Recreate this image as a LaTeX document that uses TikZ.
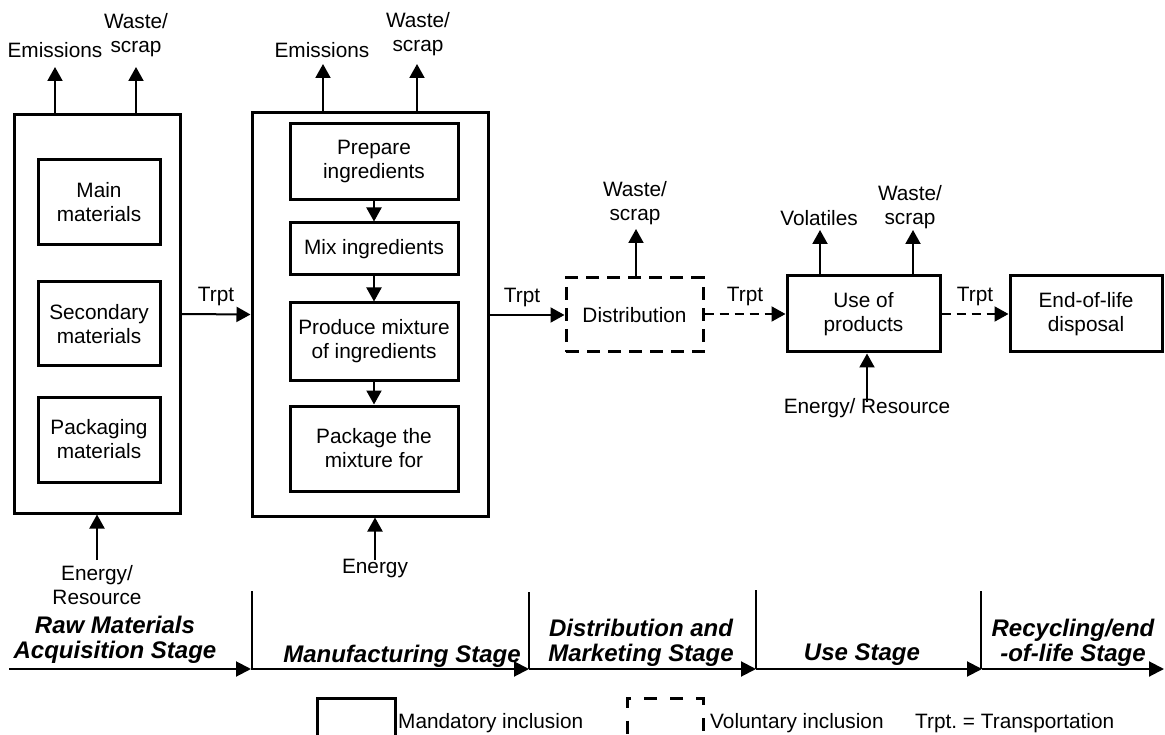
\documentclass[tikz,border=0pt]{standalone}
\usepackage{fontspec}
\setmainfont{Liberation Sans}
\usetikzlibrary{arrows.meta}
\frenchspacing
\newcommand\regf{\fontsize{20.8}{24}\selectfont}
\newcommand\stgf{\fontsize{24}{25}\selectfont\bfseries\itshape}
\tikzset{
  box/.style={draw, line width=3pt, align=center, inner sep=0pt, font=\regf},
  dbox/.style={box, dash pattern=on 13pt off 8pt},
  lab/.style={align=center, inner sep=0pt, font=\regf},
  stage/.style={align=center, inner sep=0pt, font=\stgf},
  arr/.style={-{Triangle[length=14pt,width=15pt]}, line width=2pt},
  darr/.style={arr, dash pattern=on 9pt off 6pt},
  tline/.style={-{Triangle[length=15pt,width=15pt]}, line width=2pt},
  divider/.style={line width=1.6pt},
}
\begin{document}
\begin{tikzpicture}[x=1pt,y=-1pt]
\clip (0,0) rectangle (1165,735);
\fill[white] (0,0) rectangle (1165,735);

% ---------- Raw materials ----------
\node[box, minimum width=166, minimum height=398] (rm) at (97,314) {};
\node[box, minimum width=122, minimum height=85] (main) at (99,202.5) {Main\\materials};
\node[box, minimum width=122, minimum height=84] (sec) at (99,324) {Secondary\\materials};
\node[box, minimum width=122, minimum height=85] (pack) at (99,439.5) {Packaging\\materials};
\node[lab] (rmem) at (55,50) {Emissions};
\node[lab] (rmws) at (136,35) {Waste/\\scrap};
\coordinate (rmemt) at (55,67);
\coordinate (rmwst) at (136,67);
\draw[arr] (rm.north -| rmemt) -- (rmemt);
\draw[arr] (rm.north -| rmwst) -- (rmwst);
\node[lab] (rmen) at (97,585) {Energy/\\Resource};
\coordinate (rmenb) at (97,560);
\draw[arr] (rmenb) -- (rm.south -| rmenb);

% ---------- Manufacturing ----------
\node[box, minimum width=236, minimum height=403] (mf) at (370,314.5) {};
\node[box, minimum width=168, minimum height=76] (prep) at (374,162) {Prepare\\ingredients};
\node[box, minimum width=168, minimum height=52] (mix) at (374,249) {Mix ingredients};
\node[box, minimum width=168, minimum height=77] (prod) at (374,341.5) {Produce mixture\\of ingredients};
\node[box, minimum width=168, minimum height=85] (pkg) at (374,448.5) {Package the\\mixture for};
\draw[arr] (prep.south) -- (mix.north);
\draw[arr] (mix.south) -- (prod.north);
\draw[arr] (prod.south) -- (pkg.north);
\node[lab] (mfem) at (322,50) {Emissions};
\node[lab] (mfws) at (418,34.5) {Waste/\\scrap};
\coordinate (mfemt) at (323,64);
\coordinate (mfwst) at (417,64);
\draw[arr] (mf.north -| mfemt) -- (mfemt);
\draw[arr] (mf.north -| mfwst) -- (mfwst);
\node[lab] (mfen) at (375,569) {Energy};
\coordinate (mfenb) at (375,560);
\draw[arr] (mfenb) -- (mf.south -| mfenb);

\draw[arr] (rm.east) -- node[lab, above=7pt] (t1) {Trpt} (mf.west);

% ---------- Distribution ----------
\node[dbox, minimum width=137, minimum height=74] (dist) at (634.5,315) {Distribution};
\draw[arr] (mf.east |- dist.west) -- node[lab, above=7pt, xshift=-5pt] (t2) {Trpt} (dist.west);
\node[lab] (dsws) at (635,203.5) {Waste/\\scrap};
\coordinate (dswst) at (636,229);
\draw[arr] (dist.north -| dswst) -- (dswst);

% ---------- Use ----------
\node[box, minimum width=153, minimum height=76] (use) at (863.5,314) {Use of\\products};
\draw[darr] (dist.east |- use.west) -- node[lab, above=7pt] (t3) {Trpt} (use.west);
\node[lab] (usvo) at (819,218) {Volatiles};
\node[lab] (usws) at (910,207.5) {Waste/\\scrap};
\coordinate (usvot) at (820,230);
\coordinate (uswst) at (913,230);
\draw[arr] (use.north -| usvot) -- (usvot);
\draw[arr] (use.north -| uswst) -- (uswst);
\node[lab] (usen) at (867,408) {Energy/ Resource};
\coordinate (usenb) at (867,402);
\draw[arr] (usenb) -- (use.south -| usenb);

% ---------- End of life ----------
\node[box, minimum width=152, minimum height=76] (eol) at (1086,314) {End-of-life\\disposal};
\draw[darr] (use.east) -- node[lab, above=7pt] (t4) {Trpt} (eol.west);

% ---------- Timeline ----------
\coordinate (s0) at (9,669);
\coordinate (s1) at (251,669);
\coordinate (s2) at (529,669);
\coordinate (s3) at (756,669);
\coordinate (s4) at (982,669);
\coordinate (s5) at (1164,669);
\coordinate (d1) at (252,591);
\coordinate (d2) at (529,592);
\coordinate (d3) at (756,590);
\coordinate (d4) at (981,591);
\draw[tline] (s0) -- (s1);
\draw[tline] (s1) -- (s2);
\draw[tline] (s2) -- (s3);
\draw[tline] (s3) -- (s4);
\draw[tline] (s4) -- (s5);
\draw[divider] (d1) -- (d1 |- s1);
\draw[divider] (d2) -- (d2 |- s2);
\draw[divider] (d3) -- (d3 |- s3);
\draw[divider] (d4) -- (d4 |- s4);
\node[stage] (st1) at (115,640) {Raw Materials\\Acquisition Stage};
\node[stage] (st2) at (402,656) {Manufacturing Stage};
\node[stage] (st3) at (641,643) {Distribution and\\Marketing Stage};
\node[stage] (st4) at (862,655) {Use Stage};
\node[stage] (st5) at (1073,643) {Recycling/end\\-of-life Stage};

% ---------- Legend ----------
\node[draw, line width=3pt, minimum width=78, minimum height=60, inner sep=0pt, anchor=north] (lg1) at (356,697) {};
\node[draw, line width=3pt, dash pattern=on 13pt off 13pt, minimum width=76, minimum height=60, inner sep=0pt, anchor=north] (lg2) at (665,697) {};
\node[lab, anchor=west] (lt1) at (398,723) {Mandatory inclusion};
\node[lab, anchor=west] (lt2) at (710,723) {Voluntary inclusion};
\node[lab, anchor=west] (lt3) at (915,723) {Trpt. = Transportation};
\end{tikzpicture}
\end{document}
